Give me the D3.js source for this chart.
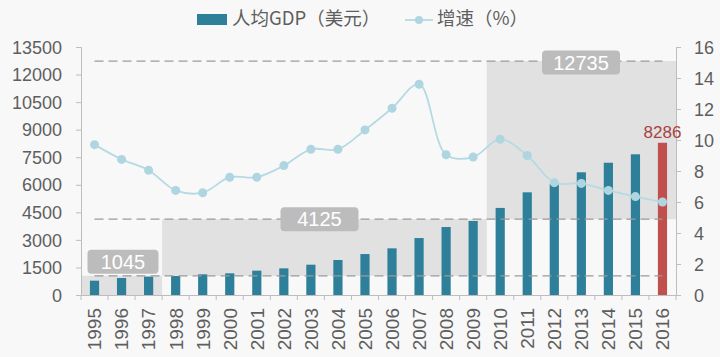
<!DOCTYPE html>
<html><head><meta charset="utf-8">
<script src="https://cdn.jsdelivr.net/npm/d3@7/dist/d3.min.js"></script>
<style>
html,body{margin:0;padding:0;background:#f8f8f8;}
svg{display:block;font-family:"Liberation Sans",Arial,sans-serif;}
</style></head>
<body><svg id="c" width="720" height="357"></svg>
<script>
const years = ["1995","1996","1997","1998","1999","2000","2001","2002","2003","2004","2005","2006","2007","2008","2009","2010","2011","2012","2013","2014","2015","2016"];
const gdpPerCapita = [780,925,1000,1035,1125,1180,1325,1450,1650,1905,2230,2540,3100,3700,4030,4740,5590,6040,6680,7200,7660,8286];
const growthRate = [9.7,8.75,8.05,6.75,6.6,7.6,7.6,8.35,9.4,9.4,10.65,12.05,13.6,9.05,8.9,10.05,9.0,7.25,7.2,6.75,6.35,6.0];
const leftTicks = [0,1500,3000,4500,6000,7500,9000,10500,12000,13500];
const rightTicks = [0,2,4,6,8,10,12,14,16];
const thresholds = [1045,4125,12735];
const zones = [
  {from:"1995", to:"1997", lo:0, hi:1045},
  {from:"1998", to:"2009", lo:1045, hi:4125},
  {from:"2010", to:"2016", lo:4125, hi:12735}
];
const legendLabels = ["人均GDP（美元）","增速（%）"];

const svg = d3.select("#c");
const L = 81, R = 676, T = 47, B = 295;
const x = d3.scaleBand().domain(years).range([L, R]).paddingInner(0.66).paddingOuter(0.33);
const xb = d3.scaleBand().domain(years).range([L, R]);
const y = d3.scaleLinear().domain([0,13500]).range([B, T]);
const y2 = d3.scaleLinear().domain([0,16]).range([B, T]);

// zones
svg.append("g").selectAll("rect").data(zones).join("rect")
  .attr("x", d => xb(d.from))
  .attr("width", d => xb(d.to) + xb.bandwidth() - xb(d.from))
  .attr("y", d => y(d.hi))
  .attr("height", d => y(d.lo) - y(d.hi))
  .attr("fill", "#e1e1e1");

// bars
svg.append("g").selectAll("rect").data(years).join("rect")
  .attr("x", d => x(d))
  .attr("width", x.bandwidth())
  .attr("y", (d,i) => y(gdpPerCapita[i]))
  .attr("height", (d,i) => B - y(gdpPerCapita[i]))
  .attr("fill", (d,i) => i === years.length-1 ? "#c0504d" : "#2e809a");

// threshold dashed lines
const xc = d => x(d) + x.bandwidth()/2;
svg.append("g").selectAll("line").data(thresholds).join("line")
  .attr("x1", xc(years[0])).attr("x2", xc(years[years.length-1]))
  .attr("y1", d => y(d)).attr("y2", d => y(d))
  .attr("stroke", "#9a9a9a").attr("stroke-width", 1.3).attr("stroke-dasharray", "9,5");

// axes
const axL = svg.append("g").attr("transform", `translate(${L},0)`)
  .call(d3.axisLeft(y).tickValues(leftTicks).tickFormat(d3.format("d")).tickSize(5).tickPadding(14));
const axR = svg.append("g").attr("transform", `translate(${R},0)`)
  .call(d3.axisRight(y2).tickValues(rightTicks).tickSize(5).tickPadding(13));
const axB = svg.append("g").attr("transform", `translate(0,${B})`)
  .call(d3.axisBottom(xb).tickSize(0));
[axL, axR, axB].forEach(a => {
  a.select(".domain").attr("stroke", "#bdbdbd");
  a.selectAll(".tick line").attr("stroke", "#bdbdbd");
  a.selectAll("text").attr("fill", "#5e5e5e").style("font-size", "18px");
});
axL.selectAll("text").attr("dy", "0.34em");
axR.selectAll("text").attr("dy", "0.34em");
axB.selectAll(".tick text")
  .style("font-size", "19px")
  .attr("transform", "rotate(-90)")
  .attr("text-anchor", "end")
  .attr("x", -13).attr("y", 0).attr("dy", "0.36em");
// boundary ticks for x axis
svg.append("g").selectAll("line").data(years.concat(["end"])).join("line")
  .attr("x1", d => d === "end" ? R : xb(d)).attr("x2", d => d === "end" ? R : xb(d))
  .attr("y1", B).attr("y2", B + 5).attr("stroke", "#bdbdbd");

// growth line
const line = d3.line().x((d,i) => xc(years[i])).y(d => y2(d)).curve(d3.curveCatmullRom.alpha(0.5));
svg.append("path").datum(growthRate).attr("d", line)
  .attr("fill", "none").attr("stroke", "#b5dae3").attr("stroke-width", 1.8);
svg.append("g").selectAll("circle").data(growthRate).join("circle")
  .attr("cx", (d,i) => xc(years[i])).attr("cy", d => y2(d)).attr("r", 4.5)
  .attr("fill", "#afd6e0");

// threshold label boxes
const boxes = [
  {v:thresholds[0], cx: 123, cy: y(thresholds[0]) - 14, w: 71},
  {v:thresholds[1], cx: 319.5, cy: y(thresholds[1]), w: 78},
  {v:thresholds[2], cx: 581, cy: y(thresholds[2]) + 1.5, w: 78}
];
const bg = svg.append("g").selectAll("g").data(boxes).join("g");
bg.append("rect").attr("x", d => d.cx - d.w/2).attr("y", d => d.cy - 12).attr("width", d => d.w).attr("height", 24)
  .attr("rx", 4).attr("fill", "#bcbcbc");
bg.append("text").attr("x", d => d.cx).attr("y", d => d.cy).attr("dy", "0.36em")
  .attr("text-anchor", "middle").attr("fill", "#fff").style("font-size", "20px").text(d => d.v);

// 2016 value label
const last = years.length - 1;
svg.append("text").attr("x", xc(years[last])).attr("y", y(gdpPerCapita[last]) - 5)
  .attr("text-anchor", "middle").attr("fill", "#a8423f").style("font-size", "17px").text(gdpPerCapita[last]);

// legend
const lg = svg.append("g").style("font-family", "'Noto Sans CJK SC','Liberation Sans',sans-serif");
lg.append("rect").attr("x", 197).attr("y", 14).attr("width", 30).attr("height", 11).attr("fill", "#2e809a");
lg.append("text").attr("x", 232).attr("y", 19).attr("dy", "0.35em").attr("fill", "#5e5e5e").style("font-size", "18.5px").text(legendLabels[0]);
lg.append("line").attr("x1", 405).attr("x2", 433).attr("y1", 20).attr("y2", 20).attr("stroke", "#b5dae3").attr("stroke-width", 1.8);
lg.append("circle").attr("cx", 419).attr("cy", 20).attr("r", 4).attr("fill", "#afd6e0");
lg.append("text").attr("x", 437).attr("y", 19).attr("dy", "0.35em").attr("fill", "#5e5e5e").style("font-size", "18.5px").text(legendLabels[1]);
</script></body></html>
